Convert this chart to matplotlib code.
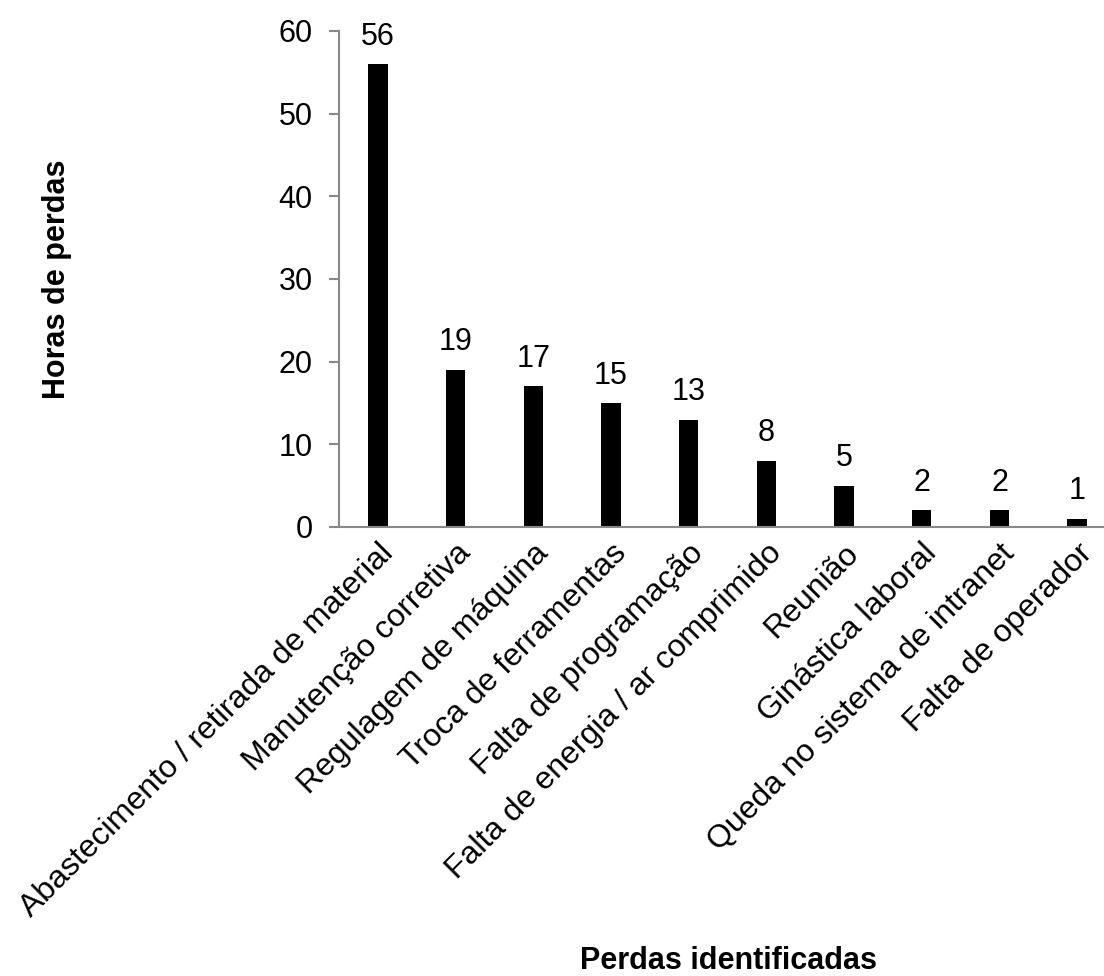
import matplotlib
matplotlib.use("Agg")
import matplotlib.pyplot as plt

plt.rcParams['font.family'] = ['Liberation Sans', 'DejaVu Sans']

categories = [
    "Abastecimento / retirada de material",
    "Manutenção corretiva",
    "Regulagem de máquina",
    "Troca de ferramentas",
    "Falta de programação",
    "Falta de energia / ar comprimido",
    "Reunião",
    "Ginástica laboral",
    "Queda no sistema de intranet",
    "Falta de operador",
]
horas = [56, 19, 17, 15, 13, 8, 5, 2, 2, 1]
yticks = [0, 10, 20, 30, 40, 50, 60]

W, H = 1104, 976
fig = plt.figure(figsize=(W / 100, H / 100), dpi=100)
left, right, top, bottom = 339, 1104, 31, 527
ax = fig.add_axes([left / W, 1 - bottom / H, (right - left) / W, (bottom - top) / H])

step = 77.7
x = list(range(len(categories)))
ax.bar(x, horas, width=0.25, color='black')
ax.set_xlim(-0.5, -0.5 + (right - left) / step)
ax.set_ylim(0, 60)
ax.set_yticks(yticks)

for xi, v in zip(x, horas):
    ax.annotate(str(v), (xi, v), xytext=(0, 14), textcoords='offset points',
                ha='center', va='baseline', fontsize=22)

grey = '#888888'
for s in ['top', 'right']:
    ax.spines[s].set_visible(False)
for s in ['left', 'bottom']:
    ax.spines[s].set_color(grey)
    ax.spines[s].set_linewidth(1.5)

ax.tick_params(axis='y', direction='out', length=7, width=1.5, color=grey,
               labelsize=22, pad=12)
ax.tick_params(axis='x', length=0, labelsize=23, pad=8)
ax.set_xticks(x)
ax.set_xticklabels(categories, rotation=45, ha='right', rotation_mode='anchor')

ax.set_ylabel("Horas de perdas", fontsize=22, fontweight='bold')
ax.yaxis.set_label_coords((72 - left) / (right - left), 0.5)
fig.text(729 / W, 1 - 969 / H, "Perdas identificadas", fontsize=22,
         fontweight='bold', ha='center', va='baseline')

fig.savefig("out.png", dpi=100)
